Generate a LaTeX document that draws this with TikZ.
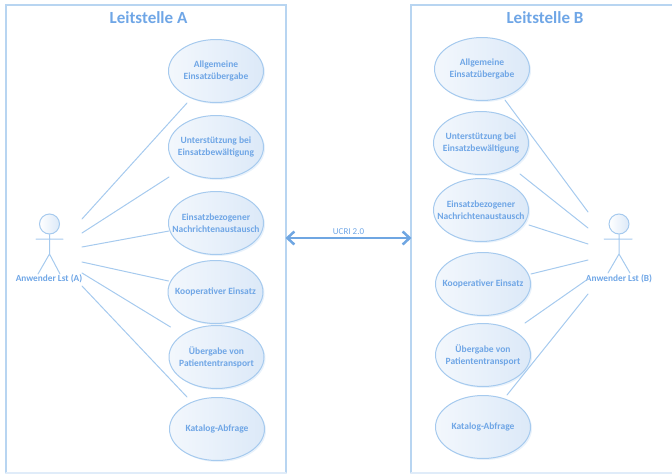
\documentclass[tikz,border=0pt]{standalone}
\usepackage{fontspec}
\setmainfont{Carlito}
\usetikzlibrary{shapes.geometric,shadows,arrows.meta}
\definecolor{lstline}{HTML}{A6CAEE}
\definecolor{lsttext}{HTML}{6FA6E6}
\definecolor{lstfill}{HTML}{DCE9F8}
\definecolor{lstarrow}{HTML}{6FA6E2}
\tikzset{
  usecase/.style={ellipse,draw=lstline,line width=1pt,minimum width=95pt,minimum height=63pt,inner xsep=-15pt,inner ysep=0pt,
    left color=lstfill!35,right color=lstfill,align=center,text=lsttext,font=\bfseries\fontsize{9.5}{12}\selectfont,
    drop shadow={shadow xshift=1.5pt,shadow yshift=-1.5pt,opacity=0.25,fill=lstline}},
  actorhead/.style={circle,draw=lstline,line width=1pt,minimum size=20pt,inner sep=0pt,left color=white,right color=lstfill},
  assoc/.style={draw=lstline,line width=1pt},
  frame/.style={draw=lstline!80,line width=1.3pt},
  frametitle/.style={text=lsttext,font=\bfseries\fontsize{17}{20}\selectfont},
  actorlabel/.style={text=lsttext,font=\bfseries\fontsize{9.3}{11}\selectfont},
}
\begin{document}
\begin{tikzpicture}[x=1pt,y=-1pt,line cap=round]
  \useasboundingbox (0,0) rectangle (672,474);
  % frames
  \draw[frame] (6,473) -- (6,5) -- (286,5) -- (286,473);
  \draw[frame] (672,5) -- (411,5) -- (411,473);
  \draw[frame,draw=lstline!35] (6,473) -- (286,473) (411,473) -- (672,473);
  \node[frametitle] (titleA) at (148.5,18) {Leitstelle A};
  \node[frametitle] (titleB) at (545,18) {Leitstelle B};

  % use cases
  \node[usecase] (ucA1) at (216,71) {Allgemeine\\Einsatzübergabe};
  \node[usecase] (ucA2) at (216,147) {Unterstützung bei\\Einsatzbewältigung};
  \node[usecase] (ucA3) at (216,223) {Einsatzbezogener\\Nachrichtenaustausch};
  \node[usecase] (ucA4) at (215.5,292) {Kooperativer Einsatz};
  \node[usecase] (ucA5) at (216.5,357) {Übergabe von\\Patiententransport};
  \node[usecase] (ucA6) at (217,429) {Katalog-Abfrage};
  \node[usecase] (ucB1) at (482,69) {Allgemeine\\Einsatzübergabe};
  \node[usecase] (ucB2) at (481,143) {Unterstützung bei\\Einsatzbewältigung};
  \node[usecase] (ucB3) at (481,210) {Einsatzbezogener\\Nachrichtenaustausch};
  \node[usecase] (ucB4) at (483,284) {Kooperativer Einsatz};
  \node[usecase] (ucB5) at (483,355) {Übergabe von\\Patiententransport};
  \node[usecase] (ucB6) at (483,427) {Katalog-Abfrage};

  % actors
  \node[actorhead] (headA) at (49.5,224) {};
  \node[actorhead] (headB) at (619,224) {};
  \coordinate (hipA) at (49.5,254);
  \coordinate (hipB) at (619,254);
  \draw[assoc] (headA.south) -- (hipA) -- (38,274) (hipA) -- (60,274) (36,239) -- (63,239);
  \draw[assoc] (headB.south) -- (hipB) -- (608,273) (hipB) -- (630,273) (604,239) -- (632,239);
  \node[actorlabel] (lblA) at (49,278.5) {Anwender Lst (A)};
  \node[actorlabel] (lblB) at (619,278.5) {Anwender Lst (B)};

  % associations
  \foreach \i/\y/\dx/\dy in {1/219/-29/32,2/233/-47/30,3/247/-47/8,4/262/-47/-11,5/273/-46/-30,6/286/-30/-32}{
    \coordinate (lstA\i) at (82,\y);
    \coordinate (endA\i) at ([shift={(\dx,\dy)}]ucA\i);
    \draw[assoc] (lstA\i) -- (endA\i);
  }
  \foreach \i/\y/\dx/\dy in {1/212/23/31,2/228/39/31,3/244/48/15,4/260/48/-10,5/279/42/-32,6/294/24/-32}{
    \coordinate (lstB\i) at (588,\y);
    \coordinate (endB\i) at ([shift={(\dx,\dy)}]ucB\i);
    \draw[assoc] (lstB\i) -- (endB\i);
  }

  % exchange
  \coordinate (gateA) at (285.5,238);
  \coordinate (gateB) at (411.5,238);
  \draw[{Straight Barb[length=7pt,width=13pt]}-{Straight Barb[length=7pt,width=13pt]},draw=lstarrow,line width=2.5pt] (gateA) -- node[above=-1pt,text=lsttext,font=\fontsize{9}{11}\selectfont] (ucri) {UCRI 2.0} (gateB);
\end{tikzpicture}
\end{document}
